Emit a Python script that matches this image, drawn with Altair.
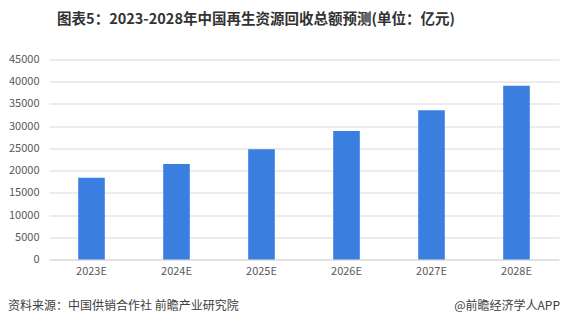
import altair as alt
import pandas as pd

years = ["2023E", "2024E", "2025E", "2026E", "2027E", "2028E"]
values = [18400, 21500, 24800, 28900, 33600, 39100]

title_text = "图表5：2023-2028年中国再生资源回收总额预测(单位：亿元)"
source_text = "资料来源：中国供销合作社 前瞻产业研究院"
brand_text = "@前瞻经济学人APP"

df = pd.DataFrame({"year": years, "value": values})
FONT = "Noto Sans CJK SC"

bars = alt.Chart(df).mark_bar(color="#3a7fdf").encode(
    x=alt.X("year:N", sort=years, title=None,
            scale=alt.Scale(paddingInner=0.687, paddingOuter=0.3435),
            axis=alt.Axis(labelAngle=0, labelFont=FONT, labelFontSize=11,
                          labelColor="#595959", ticks=False, domain=True,
                          domainColor="#d9d9d9", labelPadding=6, grid=False)),
    y=alt.Y("value:Q", title=None,
            scale=alt.Scale(domain=[0, 45000]),
            axis=alt.Axis(values=list(range(0, 45001, 5000)), format="d", labelFont=FONT,
                          labelFontSize=11, labelColor="#595959", ticks=False,
                          domain=False, gridColor="#d9d9d9", labelPadding=10)),
)

title = alt.Chart(pd.DataFrame({"t": [title_text]})).mark_text(
    font=FONT, fontSize=14.5, fontWeight="bold", color="#333333", align="center", baseline="middle"
).encode(text="t:N", x=alt.value(207), y=alt.value(-39.5))

source = alt.Chart(pd.DataFrame({"t": [source_text]})).mark_text(
    font=FONT, fontSize=12, color="#404040", align="left", baseline="middle"
).encode(text="t:N", x=alt.value(-41), y=alt.value(246))

brand = alt.Chart(pd.DataFrame({"t": [brand_text]})).mark_text(
    font=FONT, fontSize=12, color="#404040", align="right", baseline="middle"
).encode(text="t:N", x=alt.value(511), y=alt.value(246))

chart = alt.layer(bars, title, source, brand).properties(
    width=510, height=200,
    autosize=alt.AutoSizeParams(type="none"),
    padding={"left": 41, "top": 51.5, "right": 1, "bottom": 58},
    background="white",
).configure_view(stroke=None)

chart.save("out.html", embed_options={"renderer": "svg", "actions": False})
